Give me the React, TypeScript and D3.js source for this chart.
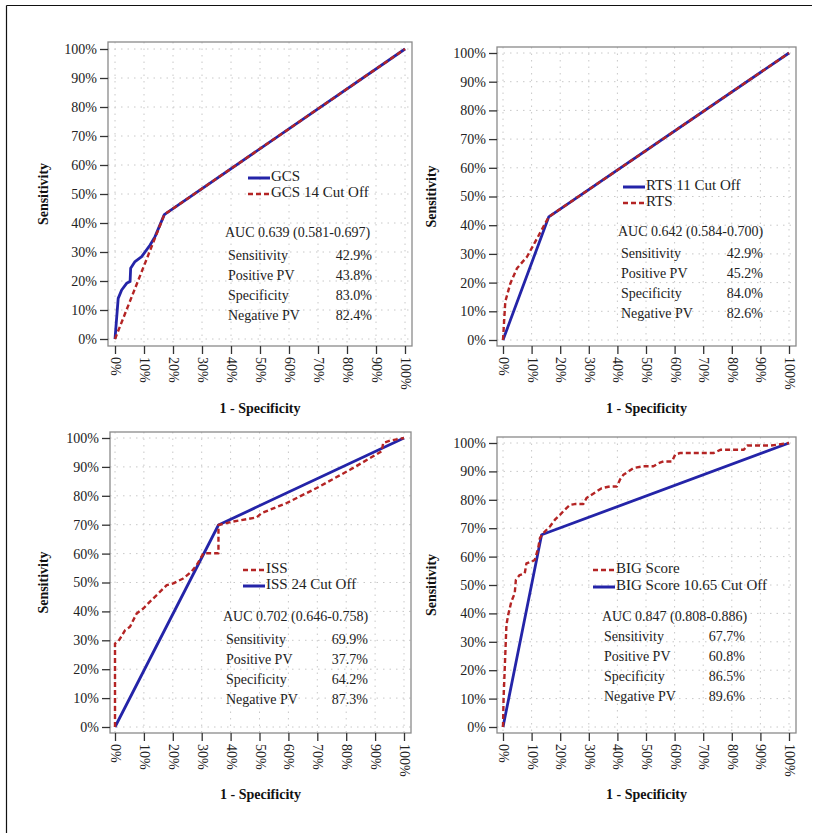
import React, { useEffect, useRef } from 'react';
import * as d3 from 'd3';

// ---- data (1 - specificity, sensitivity) in % ----
const gcsFpr = [0, 1.1, 2.3, 4, 5.2, 5.4, 6.9, 9.2, 12.1, 13.8, 17, 100];
const gcsTpr = [0, 14, 16.9, 19.2, 19.8, 24.4, 26.7, 28.4, 32.4, 35.3, 42.9, 100];
const gcsCutFpr = [0, 17, 100];
const gcsCutTpr = [0, 42.9, 100];

const rtsCutFpr = [0, 16, 100];
const rtsCutTpr = [0, 42.9, 100];
const rtsFpr = [0, 0.8, 2.6, 4.9, 8.4, 11.3, 16, 100];
const rtsTpr = [0, 13.4, 19.8, 25, 29, 34.3, 42.9, 100];

const issFpr = [0, 0, 1.2, 3.5, 5.2, 7.5, 9.8, 12.1, 15, 17.9, 20.2, 23.6, 26.5, 28.3, 30.6, 35.8, 35.8, 40.9, 49, 50.7, 59.4, 69.8, 81.3, 92.3, 92.8, 95.2, 100];
const issTpr = [0, 28.9, 29.7, 33.5, 34.7, 39.3, 41, 43.4, 46.2, 49.1, 49.7, 51.4, 53.8, 56.1, 60.1, 60.1, 69.9, 71.1, 72.5, 74, 77.5, 82.7, 89, 95.4, 98.3, 99.1, 100];
const issCutFpr = [0, 35.8, 100];
const issCutTpr = [0, 69.9, 100];

const bigFpr = [0, 0.2, 1.2, 1.8, 2.9, 4.1, 4.5, 5.8, 7.6, 8.2, 9.9, 11.1, 12.3, 12.9, 14, 16.4, 18.1, 19.9, 21.6, 23.4, 25.1, 28.1, 29.2, 31, 32.7, 34.5, 37.4, 39.8, 40.9, 42.1, 43.9, 45.6, 49.1, 52.6, 54.4, 56.1, 59.1, 60.2, 62, 73.7, 76, 84.2, 85.4, 93.6, 100];
const bigTpr = [0, 10, 35.9, 39.4, 44.1, 47.1, 51.8, 53.5, 54.1, 57.6, 58.2, 58.8, 62.9, 66.5, 68.2, 70.6, 72.9, 74.7, 76.5, 78.2, 78.5, 78.5, 80.6, 81.8, 82.9, 84.1, 84.7, 84.7, 87.1, 88.8, 90, 91.2, 91.8, 91.8, 92.9, 93.5, 93.5, 95.9, 96.5, 96.5, 97.6, 97.6, 99.1, 99.1, 100];
const bigCutFpr = [0, 13.5, 100];
const bigCutTpr = [0, 67.7, 100];

const tickValues = [0, 10, 20, 30, 40, 50, 60, 70, 80, 90, 100];
const statLabels = ['Sensitivity', 'Positive PV', 'Specificity', 'Negative PV'];
const gcsStats = ['42.9%', '43.8%', '83.0%', '82.4%'];
const rtsStats = ['42.9%', '45.2%', '84.0%', '82.6%'];
const issStats = ['69.9%', '37.7%', '64.2%', '87.3%'];
const bigStats = ['67.7%', '60.8%', '86.5%', '89.6%'];

const BLUE = '#2424a8';
const RED = '#b42424';
const FONT = "'Liberation Serif', 'Times New Roman', serif";

const zip = (xs: number[], ys: number[]) => xs.map((x, i) => [x, ys[i]] as [number, number]);

const panels = [
  {
    frame: [108, 42, 412, 346], xr: [115, 405], yr: [339, 49],
    curves: [
      { pts: zip(gcsFpr, gcsTpr), color: BLUE, dash: false },
      { pts: zip(gcsCutFpr, gcsCutTpr), color: RED, dash: true },
    ],
    legend: [{ label: 'GCS', color: BLUE, dash: false }, { label: 'GCS 14 Cut Off', color: RED, dash: true }],
    legendPos: [248, 178, 16],
    auc: 'AUC 0.639 (0.581-0.697)', aucPos: [225, 234],
    stats: gcsStats, statPos: [228, 372, 257],
    yLabelX: 45, xLabelY: 410,
  },
  {
    frame: [497, 47, 796, 346], xr: [503, 789], yr: [340, 53],
    curves: [
      { pts: zip(rtsCutFpr, rtsCutTpr), color: BLUE, dash: false },
      { pts: zip(rtsFpr, rtsTpr), color: RED, dash: true },
    ],
    legend: [{ label: 'RTS 11 Cut Off', color: BLUE, dash: false }, { label: 'RTS', color: RED, dash: true }],
    legendPos: [623, 187, 16],
    auc: 'AUC 0.642 (0.584-0.700)', aucPos: [618, 233],
    stats: rtsStats, statPos: [621, 763, 255],
    yLabelX: 433, xLabelY: 410,
  },
  {
    frame: [110, 432, 411, 733], xr: [115, 404], yr: [727, 438],
    curves: [
      { pts: zip(issCutFpr, issCutTpr), color: BLUE, dash: false },
      { pts: zip(issFpr, issTpr), color: RED, dash: true },
    ],
    legend: [{ label: 'ISS', color: RED, dash: true }, { label: 'ISS 24 Cut Off', color: BLUE, dash: false }],
    legendPos: [243, 570, 16],
    auc: 'AUC 0.702 (0.646-0.758)', aucPos: [223, 618],
    stats: issStats, statPos: [226, 368, 641],
    yLabelX: 45, xLabelY: 796,
  },
  {
    frame: [497, 437, 796, 733], xr: [503, 789], yr: [727, 443],
    curves: [
      { pts: zip(bigCutFpr, bigCutTpr), color: BLUE, dash: false },
      { pts: zip(bigFpr, bigTpr), color: RED, dash: true },
    ],
    legend: [{ label: 'BIG Score', color: RED, dash: true }, { label: 'BIG Score 10.65 Cut Off', color: BLUE, dash: false }],
    legendPos: [593, 570, 17],
    auc: 'AUC 0.847 (0.808-0.886)', aucPos: [602, 618],
    stats: bigStats, statPos: [604, 745, 638],
    yLabelX: 433, xLabelY: 796,
  },
];

const App = () => {
  const ref = useRef<SVGSVGElement>(null);

  useEffect(() => {
    const svg = d3.select(ref.current);
    svg.selectAll('*').remove();
    svg.append('rect').attr('width', 816).attr('height', 833).attr('fill', '#fff');
    // cropped figure border (top + left only)
    svg.append('line').attr('x1', 6.5).attr('x2', 812).attr('y1', 5.5).attr('y2', 5.5).attr('stroke', '#111').attr('stroke-width', 1.2);
    svg.append('line').attr('x1', 6.5).attr('x2', 6.5).attr('y1', 5.5).attr('y2', 833).attr('stroke', '#111').attr('stroke-width', 1.2);

    panels.forEach(p => {
      const [fl, ft, fr, fb] = p.frame;
      const x = d3.scaleLinear().domain([0, 100]).range(p.xr);
      const y = d3.scaleLinear().domain([0, 100]).range(p.yr);
      const g = svg.append('g');

      // grid
      tickValues.forEach(t => {
        g.append('line').attr('x1', x(t)).attr('x2', x(t)).attr('y1', ft).attr('y2', fb)
          .attr('stroke', '#c8c8c8').attr('stroke-dasharray', '1.5,5').attr('stroke-width', 1);
        g.append('line').attr('x1', fl).attr('x2', fr).attr('y1', y(t)).attr('y2', y(t))
          .attr('stroke', '#c8c8c8').attr('stroke-dasharray', '1.5,5').attr('stroke-width', 1);
      });

      // frame
      g.append('rect').attr('x', fl).attr('y', ft).attr('width', fr - fl).attr('height', fb - ft)
        .attr('fill', 'none').attr('stroke', '#8a8a8a').attr('stroke-width', 1.3);

      // y axis
      const yAxis = g.append('g').attr('transform', `translate(${fl},0)`)
        .call(d3.axisLeft(y).tickValues(tickValues).tickSize(8).tickFormat(d => `${d}%`));
      yAxis.select('.domain').remove();
      yAxis.selectAll('line').attr('stroke', '#333').attr('stroke-width', 1.3);
      yAxis.selectAll('text').attr('font-family', FONT).attr('font-size', 14).attr('fill', '#222').attr('x', -11);

      // x axis
      const xAxis = g.append('g').attr('transform', `translate(0,${fb})`)
        .call(d3.axisBottom(x).tickValues(tickValues).tickSize(8).tickFormat(d => `${d}%`));
      xAxis.select('.domain').remove();
      xAxis.selectAll('line').attr('stroke', '#333').attr('stroke-width', 1.3);
      xAxis.selectAll('text').attr('font-family', FONT).attr('font-size', 14).attr('fill', '#222')
        .attr('transform', 'rotate(90)').attr('x', 11).attr('y', 0).attr('dy', '0.32em').attr('text-anchor', 'start');

      // axis titles
      g.append('text').attr('transform', `translate(${p.yLabelX},${(ft + fb) / 2}) rotate(-90)`)
        .attr('text-anchor', 'middle').attr('dominant-baseline', 'middle')
        .attr('font-family', FONT).attr('font-weight', 'bold').attr('font-size', 14).attr('fill', '#111')
        .text('Sensitivity');
      g.append('text').attr('x', (fl + fr) / 2).attr('y', p.xLabelY)
        .attr('text-anchor', 'middle').attr('dominant-baseline', 'middle')
        .attr('font-family', FONT).attr('font-weight', 'bold').attr('font-size', 14).attr('fill', '#111')
        .text('1 - Specificity');

      // curves
      const line = d3.line<[number, number]>().x(d => x(d[0])).y(d => y(d[1]));
      p.curves.forEach(c => {
        g.append('path').attr('d', line(c.pts)).attr('fill', 'none')
          .attr('stroke', c.color).attr('stroke-width', c.dash ? 2.4 : 2.8)
          .attr('stroke-dasharray', c.dash ? '5,3' : null).attr('stroke-linejoin', 'round');
      });

      // legend
      const [lx, ly, lstep] = p.legendPos;
      p.legend.forEach((l, i) => {
        const yy = ly + i * lstep;
        g.append('line').attr('x1', lx).attr('x2', lx + 22).attr('y1', yy).attr('y2', yy)
          .attr('stroke', l.color).attr('stroke-width', l.dash ? 2.4 : 3)
          .attr('stroke-dasharray', l.dash ? '5,3' : null);
        g.append('text').attr('x', lx + 23).attr('y', yy).attr('dominant-baseline', 'middle')
          .attr('font-family', FONT).attr('font-size', 15).attr('fill', '#222').text(l.label);
      });

      // AUC + stats
      g.append('text').attr('x', p.aucPos[0]).attr('y', p.aucPos[1]).attr('dominant-baseline', 'middle')
        .attr('font-family', FONT).attr('font-size', 14).attr('fill', '#222').text(p.auc);
      const [sx, sr, sy] = p.statPos;
      statLabels.forEach((s, i) => {
        g.append('text').attr('x', sx).attr('y', sy + i * 20).attr('dominant-baseline', 'middle')
          .attr('font-family', FONT).attr('font-size', 14).attr('fill', '#222').text(s);
        g.append('text').attr('x', sr).attr('y', sy + i * 20).attr('dominant-baseline', 'middle')
          .attr('text-anchor', 'end')
          .attr('font-family', FONT).attr('font-size', 14).attr('fill', '#222').text(p.stats[i]);
      });
    });
  }, []);

  return (
    <svg ref={ref} width={816} height={833} style={{ position: 'absolute', left: 0, top: 0 }} />
  );
};

export default App;
